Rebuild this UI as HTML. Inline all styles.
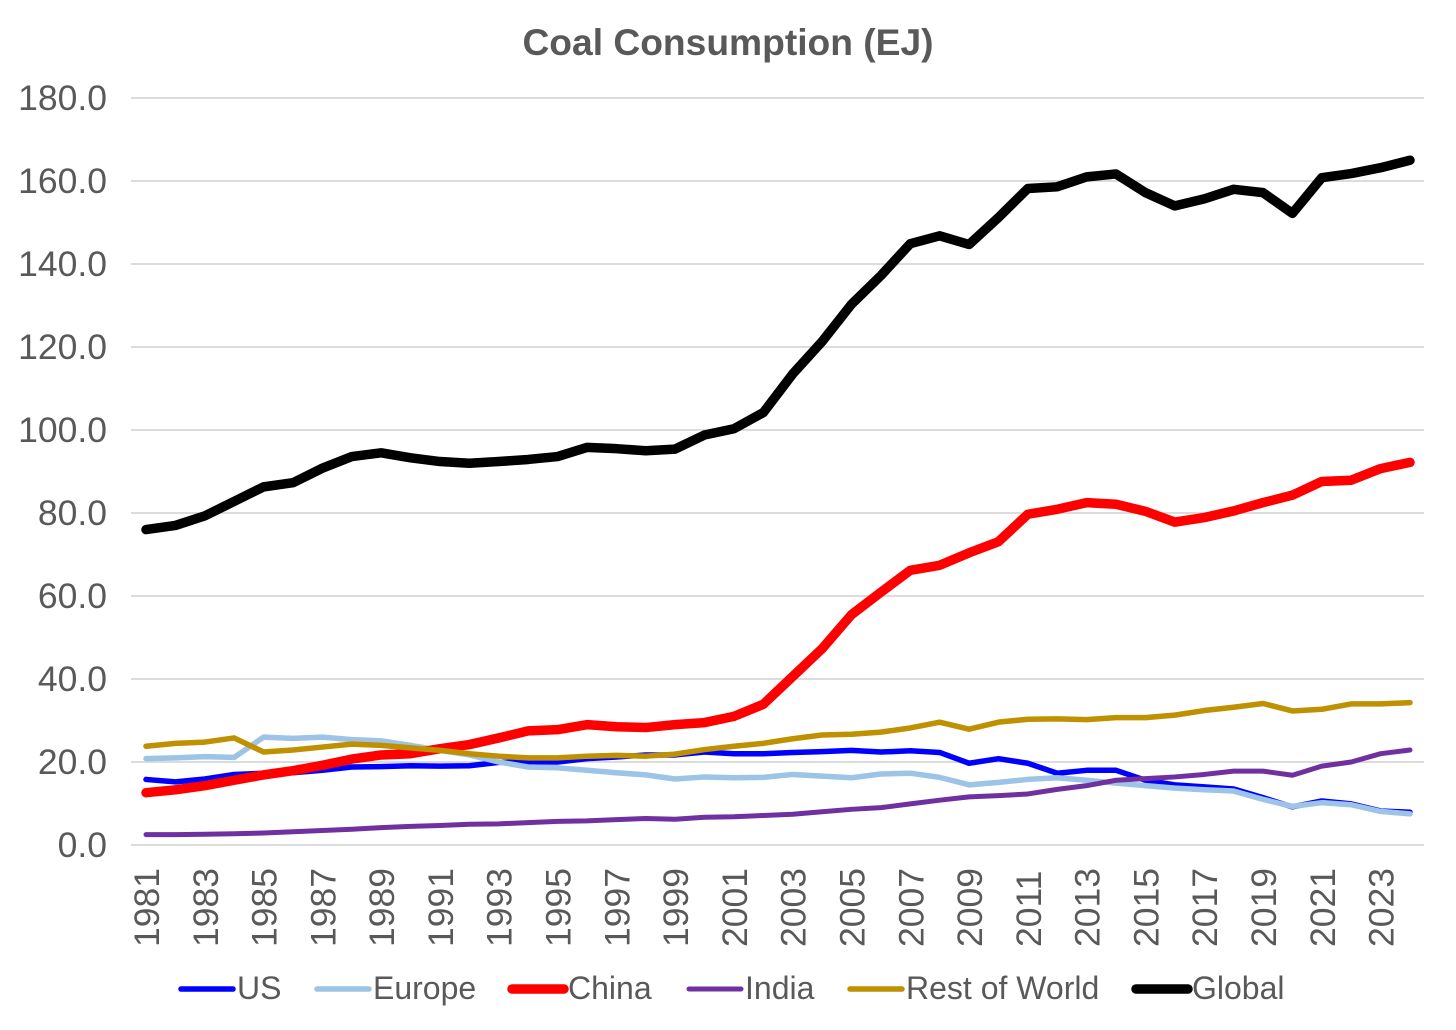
<!DOCTYPE html>
<html lang="en">
<head>
<meta charset="utf-8">
<title>Coal Consumption (EJ)</title>
<style>
html,body{margin:0;padding:0;background:#fff;}
svg{display:block;font-family:"Liberation Sans",Arial,sans-serif;}
</style>
</head>
<body>
<svg id="chart" xmlns="http://www.w3.org/2000/svg" width="1456" height="1030" viewBox="0 0 1456 1030">
<rect x="0" y="0" width="1456" height="1030" fill="#ffffff"/>
<text x="728" y="55" text-anchor="middle" font-size="37.2" font-weight="bold" fill="#595959">Coal Consumption (EJ)</text>
<g id="grid"></g>
<g id="yticks"></g>
<g id="xticks"></g>
<g id="lines"></g>
<g id="legend"></g>
</svg>
<script>
const years = [1981,1982,1983,1984,1985,1986,1987,1988,1989,1990,1991,1992,1993,1994,1995,1996,1997,1998,1999,2000,2001,2002,2003,2004,2005,2006,2007,2008,2009,2010,2011,2012,2013,2014,2015,2016,2017,2018,2019,2020,2021,2022,2023,2024];
const yTickValues = [0,20,40,60,80,100,120,140,160,180];
const usValues = [15.8,15.2,15.9,17,17.3,17.4,18,18.8,18.9,19.1,19,19.1,19.9,20,20,20.8,21.2,21.7,21.7,22.4,22,22,22.3,22.5,22.8,22.4,22.7,22.3,19.7,20.8,19.7,17.3,18,18,15.6,14.5,14,13.5,11.4,9.2,10.6,9.9,8.2,7.9];
const europeValues = [20.8,21,21.3,21.1,26,25.7,26,25.4,25.1,24,22.8,21.7,20,18.8,18.6,18,17.4,16.9,15.9,16.4,16.2,16.3,17,16.6,16.2,17.1,17.3,16.3,14.5,15.1,15.8,16.2,15.6,14.9,14.3,13.7,13.3,13,11,9.3,10.2,9.7,8.1,7.5];
const chinaValues = [12.6,13.3,14.3,15.6,16.9,17.9,19.2,20.7,21.7,22,23.2,24.2,25.8,27.5,27.8,29,28.5,28.3,29,29.5,31,33.9,40.6,47.3,55.5,60.9,66.2,67.4,70.4,73.1,79.7,80.9,82.5,82.1,80.4,77.8,78.9,80.5,82.5,84.3,87.6,87.9,90.7,92.2];
const indiaValues = [2.5,2.5,2.6,2.7,2.9,3.2,3.5,3.8,4.2,4.5,4.7,5,5.1,5.4,5.7,5.8,6.1,6.4,6.2,6.7,6.8,7.1,7.4,8,8.6,9,9.9,10.8,11.6,11.9,12.3,13.4,14.3,15.6,16,16.4,17,17.8,17.8,16.8,19,20,22,22.9];
const restOfWorldValues = [23.8,24.5,24.8,25.8,22.4,22.9,23.6,24.3,24,23.4,22.8,22,21.4,21,21,21.4,21.6,21.4,21.9,23,23.8,24.5,25.6,26.5,26.7,27.2,28.2,29.6,27.9,29.6,30.3,30.4,30.2,30.7,30.7,31.3,32.4,33.2,34.1,32.3,32.7,34,34,34.3];
const globalValues = [76,77,79.3,82.8,86.3,87.3,90.8,93.6,94.5,93.3,92.4,92,92.4,92.9,93.6,95.8,95.5,95,95.4,98.8,100.3,104.2,113.5,121.3,130.3,137.2,144.9,146.8,144.7,151.2,158.2,158.6,161,161.7,157.2,154,155.7,158,157.2,152.2,160.8,161.8,163.2,165];

const NS = 'http://www.w3.org/2000/svg';
const xScale = function (i) { return 146 + i * (1410 - 146) / (years.length - 1); };
const yScale = function (v) { return 845 - v * (845 - 98) / 180; };

function make(tag, parent, attrs) {
  const el = document.createElementNS(NS, tag);
  for (const k in attrs) el.setAttribute(k, attrs[k]);
  parent.appendChild(el);
  return el;
}

const gridGroup = document.getElementById('grid');
const yGroup = document.getElementById('yticks');
yTickValues.forEach(function (v) {
  const line = make('line', gridGroup, {x1: 131, x2: 1424, y1: yScale(v), y2: yScale(v), stroke: '#d0d0d0', 'stroke-width': 1.5});
  
  
  const label = make('text', yGroup, {x: 107, y: yScale(v) + 12, 'text-anchor': 'end', 'font-size': 35.5, fill: '#595959'});
  
  
  label.textContent = v.toFixed(1);
});

const xGroup = document.getElementById('xticks');
years.forEach(function (year, i) {
  if (i % 2 !== 0) return;
  const x = xScale(i) + 13;
  const label = make('text', xGroup, {x: x, y: 947, 'font-size': 35.5, fill: '#595959', transform: 'rotate(-90 ' + x + ' 947)'});
  
  
  label.textContent = year;
});

const seriesNames = ['US','Europe','China','India','Rest of World','Global'];
const seriesData = [usValues, europeValues, chinaValues, indiaValues, restOfWorldValues, globalValues];
const seriesColors = ['#0000ff','#9dc3e6','#ff0000','#7030a0','#bf9000','#000000'];
const seriesWidths = [5.5, 5.5, 9.5, 5, 5.5, 9.5];
const legendStarts = [178, 314, 509, 686, 847, 1133];

const lineGroup = document.getElementById('lines');
seriesData.forEach(function (vals, s) {
  const d = vals.map(function (v, i) { return (i ? 'L' : 'M') + xScale(i).toFixed(2) + ' ' + yScale(v).toFixed(2); }).join(' ');
  const path = make('path', lineGroup, {d: d, fill: 'none', stroke: seriesColors[s], 'stroke-width': seriesWidths[s], 'stroke-linecap': 'round', 'stroke-linejoin': 'round'});
  
  
});

const legendGroup = document.getElementById('legend');
seriesNames.forEach(function (name, s) {
  const x0 = legendStarts[s];
  const key = make('line', legendGroup, {x1: x0 + 3, x2: x0 + 55, y1: 989, y2: 989, stroke: seriesColors[s], 'stroke-width': seriesWidths[s], 'stroke-linecap': 'round'});
  
  
  const text = make('text', legendGroup, {x: x0 + 59, y: 999, 'font-size': 32, fill: '#595959'});
  
  
  text.textContent = name;
});
</script>
</body>
</html>
